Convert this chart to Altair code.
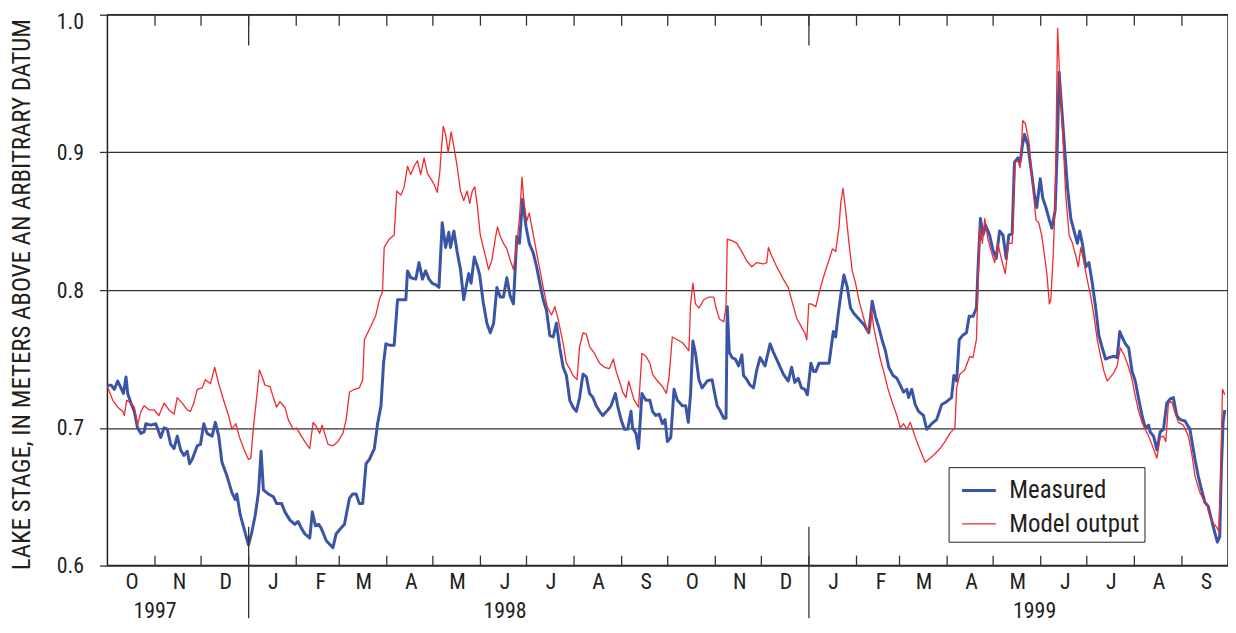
import altair as alt
import pandas as pd

START = pd.Timestamp("1997-10-01")
END = pd.Timestamp("1999-10-01")

# (day since 1997-10-01, lake stage in m)
measured = [
    (0, 0.731), (2.4, 0.731), (4.5, 0.728), (6.7, 0.734), (8.8, 0.729), (10.4, 0.725), (12.1, 0.737),
    (13.2, 0.725), (15.3, 0.718), (17.5, 0.712), (19.6, 0.700), (21.8, 0.696), (23.9, 0.697), (25.0, 0.703),
    (28.3, 0.702), (31.5, 0.703), (34.7, 0.693), (36.9, 0.700), (39.0, 0.699), (41.2, 0.688), (43.4, 0.685),
    (45.5, 0.694), (47.7, 0.684), (49.8, 0.680), (52.0, 0.683), (53.5, 0.674), (55.2, 0.677), (58.5, 0.687),
    (60.6, 0.688), (62.8, 0.703), (64.9, 0.696), (68.2, 0.694), (70.3, 0.704), (72.5, 0.694), (74.6, 0.675),
    (77.9, 0.665), (81.1, 0.653), (83.3, 0.648), (84.3, 0.652), (86.5, 0.637), (89.7, 0.624), (91.9, 0.615),
    (94.0, 0.624), (96.2, 0.636), (98.4, 0.653), (100.1, 0.683), (101.6, 0.655), (104.8, 0.652), (108.1, 0.650),
    (110.2, 0.645), (113.5, 0.645), (115.6, 0.639), (118.9, 0.633), (122.1, 0.630), (124.2, 0.632), (126.4, 0.627),
    (128.6, 0.623), (131.8, 0.620), (133.5, 0.639), (135.5, 0.629), (137.6, 0.630), (139.3, 0.627), (142.6, 0.618),
    (146.9, 0.613), (149.0, 0.623), (151.2, 0.626), (154.4, 0.630), (157.7, 0.649), (159.8, 0.652), (162.0, 0.652),
    (164.1, 0.645), (166.3, 0.645), (168.5, 0.674), (170.6, 0.677), (173.9, 0.685), (176.0, 0.703), (178.2, 0.716),
    (179.9, 0.747), (181.4, 0.761), (183.6, 0.760), (186.8, 0.760),
    (189.0, 0.793), (191.2, 0.793), (194.4, 0.793), (195.5, 0.814), (197.6, 0.809), (200.9, 0.808), (203.0, 0.820),
    (205.2, 0.808), (207.3, 0.814), (209.5, 0.808), (211.6, 0.805), (213.8, 0.804), (216.0, 0.802), (218.1, 0.849),
    (220.3, 0.831), (222.4, 0.842), (223.5, 0.831), (225.7, 0.843), (227.8, 0.828), (230.0, 0.815), (232.1, 0.793),
    (233.9, 0.804), (235.4, 0.812), (236.9, 0.805), (239.0, 0.824), (240.8, 0.818), (242.5, 0.811), (244.7, 0.792),
    (247.2, 0.776), (249.4, 0.769), (251.6, 0.776), (253.7, 0.802), (255.9, 0.795), (258.0, 0.795), (260.2, 0.809),
    (262.3, 0.796), (264.5, 0.790), (266.7, 0.839), (268.4, 0.834), (270.5, 0.866), (272.7, 0.846), (274.8, 0.834),
    (277.4, 0.827), (279.6, 0.817), (281.7, 0.805), (283.9, 0.793), (286.1, 0.785), (288.2, 0.767), (290.4, 0.766),
    (292.5, 0.776), (294.7, 0.758), (296.9, 0.744), (299.0, 0.738), (301.2, 0.720), (303.3, 0.715), (305.5, 0.712),
    (307.6, 0.722), (309.8, 0.739), (312.0, 0.737), (314.1, 0.725), (316.3, 0.722), (318.4, 0.716), (320.6, 0.712),
    (322.7, 0.709), (326.0, 0.713), (328.1, 0.716), (330.9, 0.725), (332.4, 0.716), (334.6, 0.706), (336.8, 0.699),
    (338.9, 0.699), (341.1, 0.712), (342.1, 0.700), (344.3, 0.696), (346.0, 0.685), (348.2, 0.725), (350.8, 0.720),
    (353.4, 0.720), (355.1, 0.712), (357.2, 0.709), (359.4, 0.710), (361.6, 0.703), (363.3, 0.706), (364.8, 0.690),
    (367.0, 0.693), (369.1, 0.728), (371.3, 0.720), (374.5, 0.716), (376.7, 0.716), (378.4, 0.704), (379.9, 0.725),
    (381.4, 0.763), (383.1, 0.754), (385.3, 0.735), (387.4, 0.729), (390.7, 0.734), (393.9, 0.735), (395.6, 0.725),
    (397.2, 0.716), (399.3, 0.712), (401.5, 0.707), (403.0, 0.707), (403.8, 0.788), (405.1, 0.755), (406.9, 0.751),
    (409.0, 0.750), (411.2, 0.745), (413.3, 0.753), (414.4, 0.738), (416.6, 0.735), (418.7, 0.731), (420.9, 0.729),
    (423.0, 0.742), (425.2, 0.751), (428.4, 0.745), (431.7, 0.761), (433.8, 0.755), (437.1, 0.747), (440.3, 0.739),
    (443.5, 0.734), (445.7, 0.744), (447.8, 0.733), (450.0, 0.736), (452.2, 0.729), (454.3, 0.728), (456.0, 0.724),
    (458.3, 0.747), (460.0, 0.741), (461.5, 0.741), (463.6, 0.747), (466.9, 0.747), (470.1, 0.747), (472.9, 0.770),
    (474.4, 0.766), (475.9, 0.781), (477.7, 0.796), (479.8, 0.811), (482.0, 0.802), (484.1, 0.787), (486.3, 0.783),
    (489.5, 0.779), (492.8, 0.775), (496.0, 0.769), (498.2, 0.792), (500.3, 0.781), (502.5, 0.773), (504.6, 0.764),
    (506.8, 0.756), (509.0, 0.744), (511.8, 0.738), (514.3, 0.736), (516.5, 0.731), (518.6, 0.726), (520.8, 0.728),
    (521.9, 0.722), (524.0, 0.728), (526.2, 0.717), (528.4, 0.712), (531.6, 0.709), (533.7, 0.699), (537.0, 0.703),
    (540.2, 0.706), (543.5, 0.717), (546.7, 0.719), (549.9, 0.722), (551.4, 0.738), (553.2, 0.734), (554.9, 0.764),
    (557.0, 0.767), (559.6, 0.769), (561.4, 0.781), (563.9, 0.781), (566.1, 0.787), (567.2, 0.817), (568.7, 0.852),
    (570.4, 0.840), (572.1, 0.847), (574.7, 0.840), (576.9, 0.829), (579.0, 0.823), (581.2, 0.843), (583.4, 0.840),
    (585.5, 0.823), (587.2, 0.840), (589.4, 0.841), (590.9, 0.893), (593.1, 0.896), (594.6, 0.893), (595.9, 0.904),
    (597.4, 0.913), (599.5, 0.906), (601.7, 0.888), (603.9, 0.869), (605.4, 0.860), (607.7, 0.881), (609.3, 0.867),
    (611.4, 0.860), (613.6, 0.851), (615.3, 0.845), (617.4, 0.858), (618.7, 0.901), (620.0, 0.958), (621.8, 0.930),
    (623.3, 0.907), (625.4, 0.875), (627.6, 0.852), (629.7, 0.843), (631.9, 0.834), (633.4, 0.843), (635.1, 0.834),
    (637.3, 0.817), (639.4, 0.820), (641.6, 0.805), (643.8, 0.787), (645.9, 0.767), (648.1, 0.758), (650.2, 0.750),
    (652.4, 0.751), (655.6, 0.752), (657.8, 0.751), (659.5, 0.770), (661.0, 0.766), (663.2, 0.761), (665.3, 0.758),
    (667.5, 0.741), (669.6, 0.734), (671.8, 0.721), (674.0, 0.709), (676.1, 0.700), (678.3, 0.702), (679.3, 0.697),
    (681.5, 0.694), (683.7, 0.684), (685.8, 0.697), (688.0, 0.699), (690.1, 0.718), (692.3, 0.721), (694.4, 0.722),
    (696.6, 0.709), (698.8, 0.706), (702.0, 0.705), (705.2, 0.699), (708.5, 0.677), (710.6, 0.665), (712.8, 0.655),
    (714.9, 0.646), (717.1, 0.643), (719.3, 0.633), (721.4, 0.624), (723.1, 0.617), (724.6, 0.621), (725.7, 0.671),
    (726.8, 0.704), (727.9, 0.713),
]

model = [
    (0, 0.730), (3.5, 0.720), (6.7, 0.715), (9.9, 0.712), (11.0, 0.709), (12.5, 0.720), (15.3, 0.718),
    (17.5, 0.715), (19.6, 0.702), (21.8, 0.712), (23.9, 0.716), (27.2, 0.713), (30.4, 0.713), (33.6, 0.709),
    (36.9, 0.718), (40.1, 0.713), (43.4, 0.710), (45.5, 0.722), (48.7, 0.718), (52.0, 0.713), (54.1, 0.712),
    (56.3, 0.718), (58.5, 0.728), (61.7, 0.729), (63.8, 0.735), (67.1, 0.732), (69.9, 0.744), (72.5, 0.732),
    (75.7, 0.720), (78.9, 0.709), (81.1, 0.699), (83.7, 0.703), (85.8, 0.694), (88.7, 0.685), (91.9, 0.677),
    (93.4, 0.678), (95.1, 0.700), (97.3, 0.723), (99.0, 0.742), (100.5, 0.738), (102.7, 0.731), (105.9, 0.730),
    (108.1, 0.722), (110.2, 0.715), (112.4, 0.719), (115.6, 0.715), (117.8, 0.706), (121.0, 0.699), (123.2, 0.700),
    (125.3, 0.696), (128.6, 0.690), (131.8, 0.685), (134.0, 0.704), (136.1, 0.701), (138.3, 0.696), (139.8, 0.702),
    (141.5, 0.696), (143.7, 0.688), (146.9, 0.687), (150.1, 0.690), (153.4, 0.696), (155.5, 0.706), (157.7, 0.726),
    (160.9, 0.728), (164.1, 0.729), (166.3, 0.735), (167.4, 0.764), (171.7, 0.774), (174.9, 0.782), (177.1, 0.793),
    (179.2, 0.799), (180.3, 0.831), (183.6, 0.837), (186.8, 0.840), (188.5, 0.872),
    (191.2, 0.869), (193.3, 0.875), (195.5, 0.890), (197.6, 0.884), (199.8, 0.890), (201.9, 0.894), (204.1, 0.884),
    (206.3, 0.896), (208.4, 0.885), (210.6, 0.881), (212.7, 0.877), (214.9, 0.871), (216.6, 0.887), (217.7, 0.904),
    (218.8, 0.919), (220.3, 0.913), (222.0, 0.900), (223.9, 0.915), (225.7, 0.904), (227.8, 0.890), (230.0, 0.872),
    (232.1, 0.865), (234.3, 0.872), (236.0, 0.863), (237.7, 0.872), (239.3, 0.875), (240.8, 0.863), (242.9, 0.840),
    (245.1, 0.830), (248.3, 0.815), (250.5, 0.822), (252.6, 0.837), (254.1, 0.846), (255.9, 0.839), (258.0, 0.834),
    (260.2, 0.830), (262.3, 0.822), (264.5, 0.815), (266.7, 0.834), (268.4, 0.852), (270.1, 0.882), (271.4, 0.863),
    (273.1, 0.850), (274.8, 0.856), (277.0, 0.843), (279.6, 0.827), (281.7, 0.815), (283.9, 0.802), (286.5, 0.788),
    (289.3, 0.782), (291.5, 0.788), (293.6, 0.779), (296.9, 0.761), (299.0, 0.747), (301.2, 0.743), (303.3, 0.738),
    (305.9, 0.735), (307.6, 0.759), (309.8, 0.769), (312.0, 0.768), (314.1, 0.759), (317.3, 0.754), (320.6, 0.747),
    (323.8, 0.744), (327.0, 0.743), (329.6, 0.750), (331.4, 0.741), (333.5, 0.734), (335.7, 0.726), (337.8, 0.722),
    (339.6, 0.734), (341.3, 0.727), (343.2, 0.720), (346.0, 0.715), (348.2, 0.754), (350.8, 0.752), (353.4, 0.747),
    (355.1, 0.739), (358.3, 0.734), (361.6, 0.730), (364.1, 0.725), (365.9, 0.737), (368.0, 0.766), (371.3, 0.764),
    (374.5, 0.762), (376.7, 0.759), (378.8, 0.756), (379.9, 0.790), (381.4, 0.805), (383.1, 0.790), (385.3, 0.787),
    (388.5, 0.793), (391.8, 0.795), (395.0, 0.795), (396.5, 0.787), (398.7, 0.779), (401.5, 0.777), (403.0, 0.788),
    (403.8, 0.837), (406.9, 0.836), (410.1, 0.834), (413.3, 0.828), (416.6, 0.821), (419.8, 0.817), (423.0, 0.820),
    (427.3, 0.819), (429.5, 0.820), (430.6, 0.831), (432.7, 0.825), (436.0, 0.817), (440.3, 0.808), (443.5, 0.802),
    (445.7, 0.793), (448.9, 0.780), (452.2, 0.773), (454.3, 0.769), (455.6, 0.764), (456.9, 0.790),
    (458.3, 0.790), (461.5, 0.788), (463.6, 0.798), (465.8, 0.807), (468.0, 0.815), (470.1, 0.822), (472.3, 0.830),
    (474.4, 0.828), (476.6, 0.846), (477.7, 0.863), (479.2, 0.874), (480.9, 0.858), (483.1, 0.834), (485.2, 0.814),
    (487.4, 0.805), (489.5, 0.793), (492.8, 0.779), (495.4, 0.770), (497.1, 0.773), (497.7, 0.786), (499.2, 0.773),
    (501.4, 0.761), (503.5, 0.750), (505.7, 0.741), (508.3, 0.729), (511.1, 0.719), (514.3, 0.709), (516.5, 0.700),
    (518.6, 0.703), (520.8, 0.699), (523.0, 0.704), (525.1, 0.697), (527.3, 0.690), (530.5, 0.681), (532.7, 0.675),
    (535.9, 0.678), (539.1, 0.681), (542.4, 0.685), (545.6, 0.690), (548.8, 0.696), (552.1, 0.700), (553.2, 0.729),
    (555.3, 0.739), (558.5, 0.742), (561.8, 0.752), (563.9, 0.751), (566.1, 0.764), (567.2, 0.805), (568.3, 0.846),
    (570.0, 0.834), (571.5, 0.852), (573.6, 0.837), (575.8, 0.828), (578.0, 0.820), (580.1, 0.834), (582.3, 0.823),
    (584.9, 0.812), (587.0, 0.834), (589.4, 0.834), (591.3, 0.893), (593.1, 0.894), (594.6, 0.889), (596.3, 0.923),
    (598.0, 0.921), (600.6, 0.906), (602.3, 0.882), (604.9, 0.851), (606.7, 0.849), (608.6, 0.840), (610.5, 0.825),
    (612.1, 0.811), (613.6, 0.790), (614.6, 0.793), (616.1, 0.825), (617.4, 0.863), (619.0, 0.990), (620.5, 0.951),
    (622.2, 0.916), (624.3, 0.869), (626.5, 0.840), (628.7, 0.834), (630.8, 0.825), (632.5, 0.817), (634.1, 0.831),
    (636.2, 0.820), (638.4, 0.807), (640.5, 0.796), (642.7, 0.781), (644.8, 0.764), (647.0, 0.752), (649.2, 0.741),
    (651.3, 0.734), (653.5, 0.737), (655.6, 0.740), (657.8, 0.745), (659.9, 0.758), (662.7, 0.752), (665.3, 0.744),
    (667.5, 0.735), (669.6, 0.723), (671.8, 0.712), (674.0, 0.704), (676.1, 0.699), (678.3, 0.694), (680.4, 0.688),
    (683.7, 0.678), (685.8, 0.693), (688.0, 0.694), (689.5, 0.690), (691.2, 0.718), (693.4, 0.719), (695.5, 0.711),
    (697.7, 0.704), (700.9, 0.702), (704.2, 0.694), (706.3, 0.682), (708.5, 0.665), (711.7, 0.653), (713.9, 0.648),
    (716.0, 0.645), (718.2, 0.636), (720.3, 0.631), (722.5, 0.628), (724.0, 0.625), (725.1, 0.659), (726.4, 0.728),
    (727.9, 0.724),
]

series_names = ["Measured", "Model output"]
series_colors = ["#3a55a5", "#ee2b2f"]
series_widths = [3.0, 1.3]

month_letters = ["O", "N", "D", "J", "F", "M", "A", "M", "J", "J", "A", "S"] * 2
year_labels = ["1997", "1998", "1999"]
year_label_dates = ["1997-11-01", "1998-06-17", "1999-05-28"]
year_breaks = ["1998-01-01", "1999-01-01"]
y_ticks = [0.6, 0.7, 0.8, 0.9, 1.0]

FONT = "Roboto Condensed, Liberation Sans, sans-serif"
FS = 22
TXT = "#231f20"
LINE = "#333333"
W, H = 1127, 554


def frame(pairs, name):
    days = [p[0] for p in pairs]
    vals = [p[1] for p in pairs]
    return pd.DataFrame({
        "date": START + pd.to_timedelta(days, unit="D"),
        "stage": vals,
        "series": name,
    })


lines_df = pd.concat([frame(measured, "Measured"), frame(model, "Model output")], ignore_index=True)
month_starts = pd.date_range(START, END, freq="MS")
ticks_df = pd.DataFrame({"date": month_starts[1:-1]})
years_df = pd.DataFrame({"date": pd.to_datetime(year_breaks)})
month_df = pd.DataFrame({
    "date": pd.date_range(START, periods=24, freq="MS") + pd.Timedelta(days=16),
    "label": month_letters,
})
year_df = pd.DataFrame({"date": pd.to_datetime(year_label_dates), "label": year_labels})

xscale = alt.Scale(domain=[alt.DateTime(year=1997, month=10, date=1),
                           alt.DateTime(year=1999, month=10, date=1)])
X = alt.X("date:T", scale=xscale, axis=None)

legend = alt.Legend(
    title=None, orient="none", legendX=846, legendY=455, direction="vertical",
    symbolType="stroke", symbolSize=1156, symbolOffset=7,
    labelFont=FONT, labelFontSize=25, labelColor=TXT,
    labelOffset=12, rowPadding=2, padding=5, strokeColor=TXT, fillColor="white",
)

lines = alt.Chart(lines_df).mark_line(strokeJoin="round").encode(
    x=X,
    y=alt.Y(
        "stage:Q",
        scale=alt.Scale(domain=[0.6, 1.0], nice=False, zero=False),
        axis=alt.Axis(
            values=y_ticks, format=".1f",
            title="LAKE STAGE, IN METERS ABOVE AN ARBITRARY DATUM",
            grid=True, gridColor=LINE, gridWidth=1.3, domain=False,
            tickSize=8, tickColor=LINE, tickWidth=1.3,
            labelFont=FONT, labelFontSize=FS, labelColor=TXT, labelPadding=16,
            labelOffset={"condition": {"test": "datum.value >= 0.99", "value": 7}, "value": 0},
            titleFont=FONT, titleFontSize=25, titleFontWeight="normal", titleColor=TXT,
            titleAngle=270, titleX=-86, titleY=H / 2 + 4, titleAlign="center", titleBaseline="middle",
        ),
    ),
    color=alt.Color("series:N", scale=alt.Scale(domain=series_names, range=series_colors), legend=legend),
    strokeWidth=alt.StrokeWidth("series:N", scale=alt.Scale(domain=series_names, range=series_widths),
                                legend=legend),
)

rule = dict(color=LINE, strokeWidth=1.3)
bottom_ticks = alt.Chart(ticks_df).mark_rule(**rule).encode(x=X, y=alt.value(H), y2=alt.value(H - 10))
top_ticks = alt.Chart(ticks_df).mark_rule(**rule).encode(x=X, y=alt.value(0), y2=alt.value(11))
year_top = alt.Chart(years_df).mark_rule(**rule).encode(x=X, y=alt.value(0), y2=alt.value(31))
year_bottom = alt.Chart(years_df).mark_rule(**rule).encode(x=X, y=alt.value(H - 39), y2=alt.value(H + 53))

month_text = alt.Chart(month_df).mark_text(
    font=FONT, fontSize=FS, color=TXT, align="center", baseline="alphabetic"
).encode(x=X, y=alt.value(H + 24), text="label:N")

year_text = alt.Chart(year_df).mark_text(
    font=FONT, fontSize=FS, color=TXT, align="center", baseline="alphabetic"
).encode(x=X, y=alt.value(H + 53), text="label:N")

chart = alt.layer(
    lines, bottom_ticks, top_ticks, year_top, year_bottom, month_text, year_text
).properties(
    width=W, height=H,
    padding={"left": 100, "top": 5, "right": 0, "bottom": 58},
    autosize=alt.AutoSizeParams(type="none"),
).configure_view(stroke=TXT, strokeWidth=1.5)

chart.save("out.html", embed_options={"renderer": "svg", "actions": False})
